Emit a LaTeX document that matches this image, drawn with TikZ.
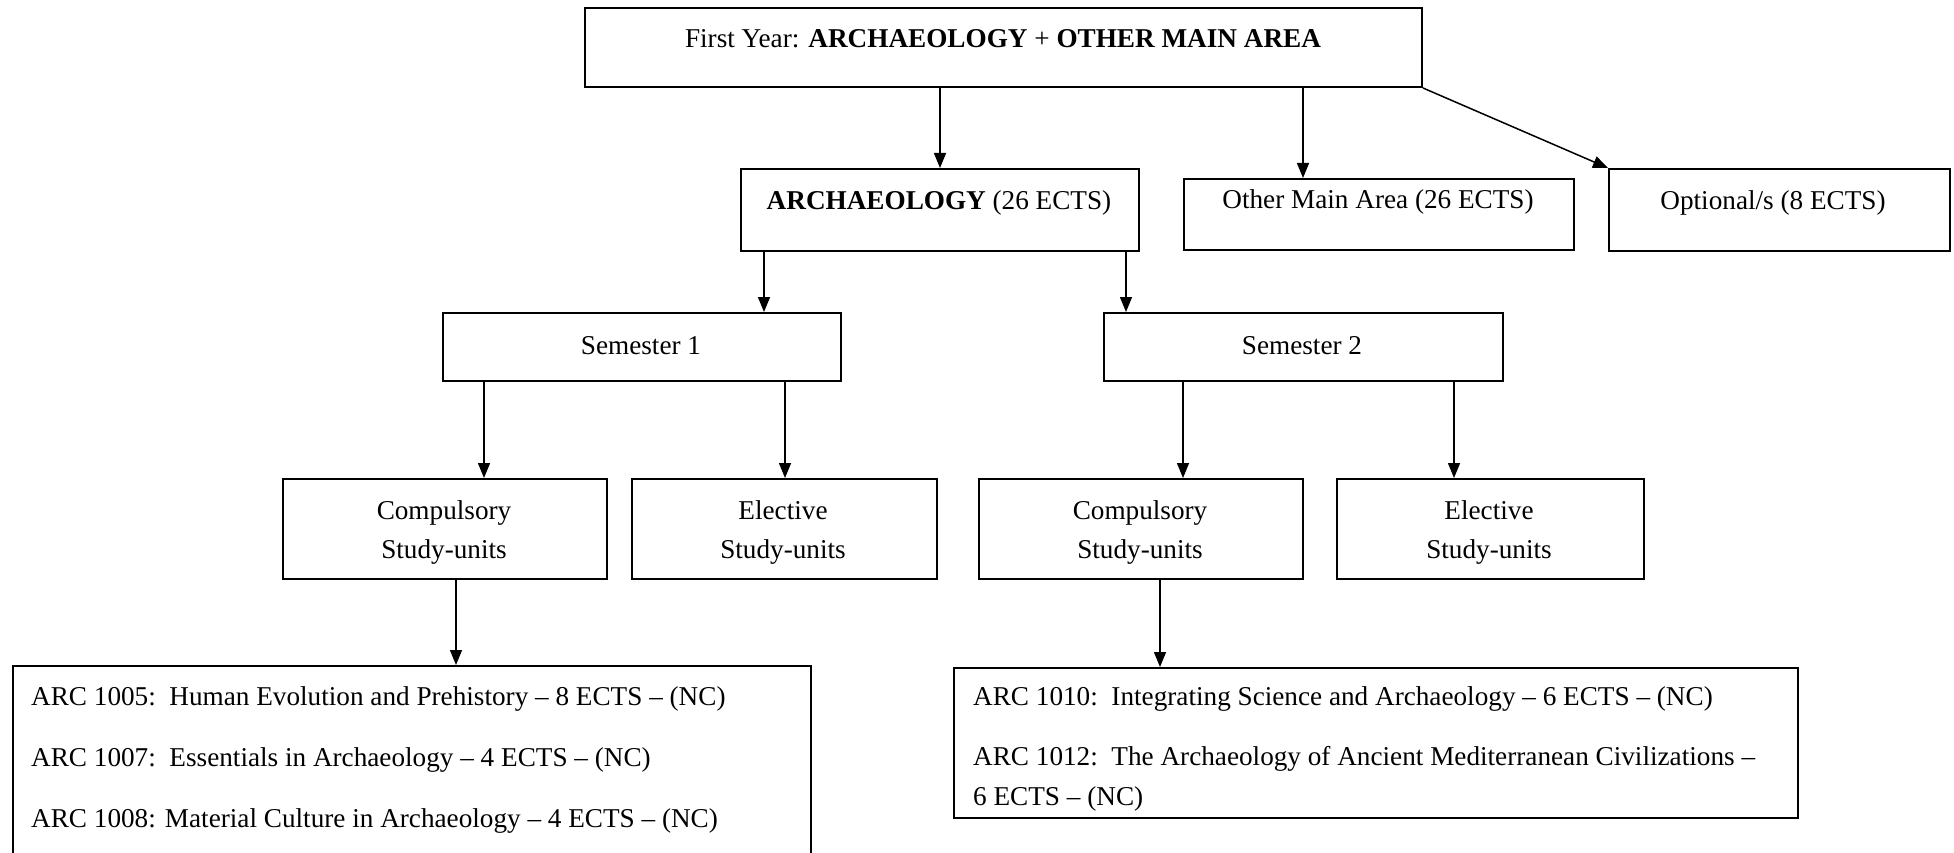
\documentclass[tikz,border=0pt]{standalone}
\usepackage{fontspec}
\setmainfont{Liberation Serif}
\usetikzlibrary{arrows.meta}
\begin{document}
\begin{tikzpicture}[x=1pt,y=-1pt,
  box/.style={draw, line width=2pt, anchor=north west, inner sep=0pt},
  lbl/.style={anchor=base, inner sep=0pt, font=\fontsize{27.2}{33}\selectfont},
  lbll/.style={lbl, anchor=base west},
  arr/.style={line width=1.5pt, -{Triangle[length=15pt,width=12pt]}}]
\useasboundingbox (0,0) rectangle (1954,853);
\clip (0,0) rectangle (1954,853);

% boxes
\node[box, minimum width=837pt, minimum height=79pt] (top) at (584,7) {};
\node[box, minimum width=398pt, minimum height=82pt] (arch) at (740,168) {};
\node[box, minimum width=390pt, minimum height=71pt] (other) at (1183,178) {};
\node[box, minimum width=341pt, minimum height=82pt] (opt) at (1608,168) {};
\node[box, minimum width=398pt, minimum height=68pt] (sem1) at (442,312) {};
\node[box, minimum width=399pt, minimum height=68pt] (sem2) at (1103,312) {};
\node[box, minimum width=324pt, minimum height=100pt] (comp1) at (282,478) {};
\node[box, minimum width=305pt, minimum height=100pt] (elec1) at (631,478) {};
\node[box, minimum width=324pt, minimum height=100pt] (comp2) at (978,478) {};
\node[box, minimum width=307pt, minimum height=100pt] (elec2) at (1336,478) {};
\node[box, minimum width=798pt, minimum height=205pt] (list1) at (12,665) {};
\node[box, minimum width=844pt, minimum height=150pt] (list2) at (953,667) {};

% labels
\node[lbl] (top-t) at (1003,48) {First Year: \textbf{ARCHAEOLOGY} + \textbf{OTHER MAIN AREA}};
\node[lbl] (arch-t) at (939,210) {\textbf{ARCHAEOLOGY} (26 ECTS)};
\node[lbl] (other-t) at (1378,208) {Other Main Area (26 ECTS)};
\node[lbl] (opt-t) at (1773,210) {Optional/s (8 ECTS)};
\node[lbl] (sem1-t) at (641,354) {Semester 1};
\node[lbl] (sem2-t) at (1302,354) {Semester 2};
\node[lbl] (comp1-a) at (444,519) {Compulsory};
\node[lbl] (comp1-b) at (444,558) {Study-units};
\node[lbl] (elec1-a) at (783,519) {Elective};
\node[lbl] (elec1-b) at (783,558) {Study-units};
\node[lbl] (comp2-a) at (1140,519) {Compulsory};
\node[lbl] (comp2-b) at (1140,558) {Study-units};
\node[lbl] (elec2-a) at (1489,519) {Elective};
\node[lbl] (elec2-b) at (1489,558) {Study-units};
\node[lbll] (l1a) at (31,705) {ARC 1005:\ \ Human Evolution and Prehistory – 8 ECTS – (NC)};
\node[lbll] (l1b) at (31,766) {ARC 1007:\ \ Essentials in Archaeology – 4 ECTS – (NC)};
\node[lbll] (l1c) at (31,827) {ARC 1008: Material Culture in Archaeology – 4 ECTS – (NC)};
\node[lbll] (l2a) at (973,705) {ARC 1010:\ \ Integrating Science and Archaeology – 6 ECTS – (NC)};
\node[lbll] (l2b) at (973,765) {ARC 1012:\ \ The Archaeology of Ancient Mediterranean Civilizations –};
\node[lbll] (l2c) at (973,805) {6 ECTS – (NC)};

% connectors
\draw[arr] (top.south -| arch.north) -- (arch.north);
\draw[arr] ([xshift=-76pt]other.north |- top.south) -- ([xshift=-76pt]other.north);
\draw[arr] (top.south east) -- (opt.north west);
\draw[arr] ([xshift=24pt]arch.south west) -- ([xshift=24pt]arch.south west |- sem1.north);
\draw[arr] ([xshift=-14pt]arch.south east) -- ([xshift=-14pt]arch.south east |- sem2.north);
\draw[arr] ([xshift=42pt]sem1.south west) -- ([xshift=42pt]sem1.south west |- comp1.north);
\draw[arr] ([xshift=-57pt]sem1.south east) -- ([xshift=-57pt]sem1.south east |- elec1.north);
\draw[arr] ([xshift=80pt]sem2.south west) -- ([xshift=80pt]sem2.south west |- comp2.north);
\draw[arr] ([xshift=-50pt]sem2.south east) -- ([xshift=-50pt]sem2.south east |- elec2.north);
\draw[arr] ([xshift=174pt]comp1.south west) -- ([xshift=174pt]comp1.south west |- list1.north);
\draw[arr] ([xshift=182pt]comp2.south west) -- ([xshift=182pt]comp2.south west |- list2.north);
\end{tikzpicture}
\end{document}
